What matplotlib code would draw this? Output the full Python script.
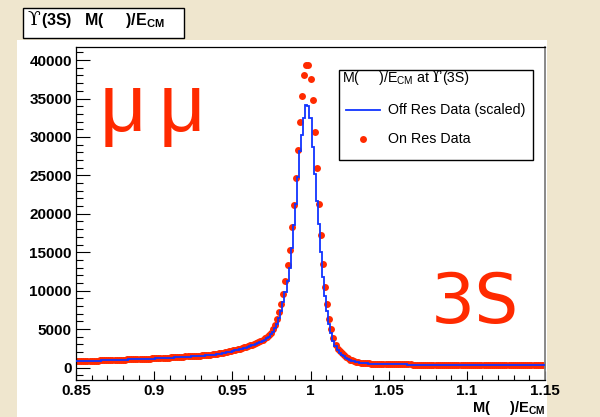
import numpy as np
import matplotlib
matplotlib.use("Agg")
import matplotlib.pyplot as plt
from matplotlib.patches import Rectangle
from matplotlib.lines import Line2D
from matplotlib.ticker import MultipleLocator

# ---------------------------------------------------------------- data
x_range = (0.85, 1.15)

# On-resonance Upsilon(3S) data, counts per bin (225 equal bins over x_range)
on_res = [
    820, 828, 836, 845, 854, 862, 871, 880, 890, 905,
    915, 925, 935, 945, 955, 965, 975, 985, 995, 1005,
    1015, 1025, 1035, 1045, 1055, 1065, 1075, 1085, 1095, 1105,
    1115, 1125, 1135, 1145, 1155, 1165, 1180, 1195, 1210, 1225,
    1240, 1255, 1270, 1285, 1300, 1315, 1330, 1350, 1370, 1390,
    1410, 1425, 1440, 1455, 1470, 1485, 1500, 1520, 1540, 1560,
    1585, 1610, 1635, 1660, 1690, 1720, 1755, 1790, 1830, 1870,
    1920, 1980, 2040, 2110, 2180, 2250, 2320, 2390, 2460, 2540,
    2620, 2700, 2790, 2880, 2980, 3080, 3200, 3330, 3470, 3620,
    3800, 4000, 4250, 4550, 5000, 5600, 6340, 7200, 8290, 9600,
    11200, 13280, 15320, 18300, 21200, 24650, 28300, 32000, 35300, 38000,
    39300, 39300, 37600, 34800, 30600, 25950, 21300, 17300, 13500, 10460,
    8290, 6340, 4950, 3870, 2990, 2430, 2100, 1860, 1580, 1340,
    1180, 1030, 920, 830, 760, 700, 650, 610, 580, 555,
    530, 510, 495, 480, 470, 462, 455, 449, 443, 438,
    433, 428, 424, 420, 416, 412, 409, 406, 403, 400,
    398, 396, 394, 392, 390, 388, 386, 385, 384, 383,
    382, 381, 380, 379, 378, 377, 376, 375, 374, 373,
    372, 371, 370, 369, 368, 367, 366, 365, 364, 363,
    362, 361, 360, 359, 358, 357, 356, 356, 355, 355,
    354, 354, 353, 353, 352, 352, 351, 351, 350, 350,
    349, 349, 348, 348, 347, 347, 346, 346, 345, 345,
    344, 344, 343, 343, 342,
]

# Off-resonance data scaled to the on-resonance luminosity, same binning
off_res = [
    810, 818, 826, 835, 843, 851, 860, 869, 878, 892,
    902, 912, 922, 932, 942, 951, 961, 971, 981, 991,
    1000, 1010, 1020, 1030, 1040, 1049, 1059, 1069, 1078, 1088,
    1097, 1107, 1116, 1126, 1135, 1145, 1159, 1173, 1187, 1201,
    1215, 1229, 1243, 1257, 1271, 1285, 1299, 1318, 1336, 1355,
    1374, 1388, 1401, 1415, 1428, 1442, 1456, 1474, 1492, 1510,
    1532, 1555, 1577, 1600, 1626, 1653, 1684, 1716, 1752, 1800,
    1850, 1905, 1960, 2020, 2085, 2150, 2220, 2300, 2380, 2450,
    2520, 2600, 2690, 2780, 2870, 2960, 3060, 3170, 3290, 3420,
    3580, 3780, 4020, 4300, 4650, 5100, 5700, 6450, 7400, 8500,
    9800, 11300, 13000, 15500, 18500, 21300, 24800, 28200, 30200, 32400,
    34100, 34000, 32400, 28700, 25200, 21700, 18700, 15000, 11800, 9300,
    7300, 5700, 4450, 3500, 2780, 2280, 1940, 1690, 1450, 1260,
    1110, 980, 880, 800, 735, 680, 635, 598, 568, 542,
    520, 502, 487, 474, 462, 455, 448, 442, 437, 432,
    427, 423, 419, 415, 411, 408, 405, 402, 399, 396,
    394, 392, 390, 388, 386, 384, 382, 381, 380, 379,
    378, 377, 376, 375, 374, 373, 372, 371, 370, 369,
    368, 367, 366, 365, 364, 363, 362, 361, 360, 359,
    358, 357, 356, 355, 354, 353, 352, 352, 351, 351,
    350, 350, 349, 349, 348, 348, 347, 347, 346, 346,
    345, 345, 344, 344, 343, 343, 342, 342, 341, 341,
    340, 340, 339, 339, 338,
]

x_ticks = [0.85, 0.9, 0.95, 1.0, 1.05, 1.1, 1.15]
x_tick_labels = ["0.85", "0.9", "0.95", "1", "1.05", "1.1", "1.15"]
y_ticks = [0, 5000, 10000, 15000, 20000, 25000, 30000, 35000, 40000]
y_tick_labels = ["0", "5000", "10000", "15000", "20000", "25000",
                 "30000", "35000", "40000"]

# ---------------------------------------------------------------- style
RED = "#ff2a00"
BLUE = "#1034ff"
PAPER = "#efe6ce"
SANS = ["Liberation Sans", "DejaVu Sans"]
UPS = ["DejaVu Serif"]
MS = 5.0

plt.rcParams["mathtext.fontset"] = "custom"
plt.rcParams["mathtext.rm"] = "Liberation Sans"
plt.rcParams["mathtext.bf"] = "Liberation Sans:bold"

W, H = 600, 417
fig = plt.figure(figsize=(W / 100, H / 100), dpi=100, facecolor=PAPER)


def fx(px):
    return px / W


def fy(py):
    return 1 - py / H


# white canvas behind the pad
fig.patches.append(Rectangle((fx(17), 0), fx(547) - fx(17), fy(40),
                             transform=fig.transFigure, facecolor="white",
                             edgecolor="none", zorder=-10))

ax = fig.add_axes([fx(76), fy(380), fx(545) - fx(76), fy(47) - fy(380)])
ax.set_zorder(1)
ax.set_facecolor("white")

edges = np.linspace(x_range[0], x_range[1], len(off_res) + 1)
centers = 0.5 * (edges[:-1] + edges[1:])

ax.plot(centers, on_res, "o", color=RED, ms=MS, mec="none", zorder=2)
ax.stairs(off_res, edges, color=BLUE, lw=1.3, baseline=None, zorder=3)

ax.set_xlim(*x_range)
ax.set_ylim(-1620, 41700)

tick_font = dict(family=SANS, fontweight="bold", fontsize=11)
ax.set_xticks(x_ticks, labels=x_tick_labels, **tick_font)
ax.set_yticks(y_ticks, labels=y_tick_labels, **tick_font)
ax.xaxis.set_minor_locator(MultipleLocator(0.01))
ax.yaxis.set_minor_locator(MultipleLocator(1000))
ax.tick_params(which="both", direction="in", top=False, right=False,
               width=0.8, color="black")
ax.tick_params(axis="x", which="major", length=6.5, pad=3)
ax.tick_params(axis="x", which="minor", length=3.3)
ax.tick_params(axis="y", which="major", length=10, pad=3)
ax.tick_params(axis="y", which="minor", length=5)
for side in ("left", "bottom", "top"):
    ax.spines[side].set_linewidth(0.9)
    ax.spines[side].set_color("black")
ax.spines["right"].set_linewidth(1.3)
ax.spines["right"].set_color("#808080")

# title box
fig.patches.append(Rectangle((fx(22.5), fy(37.5)), fx(184) - fx(22.5),
                             fy(7.5) - fy(37.5), transform=fig.transFigure,
                             facecolor="white", edgecolor="black", lw=1,
                             zorder=5))
fig.text(fx(27), fy(25), "\u03d2", family=UPS, fontsize=13.5,
         va="baseline", ha="left", zorder=6)
fig.text(fx(41), fy(25), "(3S)   M(     )/E$_{\\mathbf{CM}}$",
         family=SANS, fontweight="bold", fontsize=11.5, va="baseline",
         ha="left", zorder=6)

# axis title
fig.text(fx(545), fy(412), "M(     )/E$_{\\mathbf{CM}}$", family=SANS,
         fontweight="bold", fontsize=10.5, ha="right", va="baseline",
         zorder=6)

# big labels on the plot
fig.text(fx(122.5), fy(131), "\u03bc", color=RED, family=SANS,
         fontsize=58, ha="center", va="baseline", zorder=6)
fig.text(fx(182), fy(131), "\u03bc", color=RED, family=SANS,
         fontsize=58, ha="center", va="baseline", zorder=6)
fig.text(fx(475), fy(323), "3S", color=RED, family=["DejaVu Sans"],
         fontsize=50, ha="center", va="baseline", zorder=6)

# legend
fig.patches.append(Rectangle((fx(339), fy(160)), fx(533) - fx(339),
                             fy(70) - fy(160), transform=fig.transFigure,
                             facecolor="white", edgecolor="black", lw=1,
                             zorder=5))
leg_font = dict(family=SANS, fontsize=10.3, va="baseline", ha="left",
                zorder=6)
fig.text(fx(342), fy(82), "M(     )/E$_{\\mathrm{CM}}$ at", **leg_font)
fig.text(fx(431), fy(82), "\u03d2", family=UPS, fontsize=11.5,
         va="baseline", ha="left", zorder=6)
fig.text(fx(442), fy(82), "(3S)", **leg_font)
fig.lines.append(Line2D([fx(346), fx(380)], [fy(110), fy(110)],
                        transform=fig.transFigure, color=BLUE, lw=1.3,
                        zorder=6))
fig.text(fx(388), fy(114), "Off Res Data (scaled)", **leg_font)
fig.lines.append(Line2D([fx(363)], [fy(139)], transform=fig.transFigure,
                        marker="o", ms=MS, mec="none", color=RED,
                        zorder=6))
fig.text(fx(388), fy(143), "On Res Data", **leg_font)

fig.savefig("out.png", dpi=100, facecolor=PAPER)
